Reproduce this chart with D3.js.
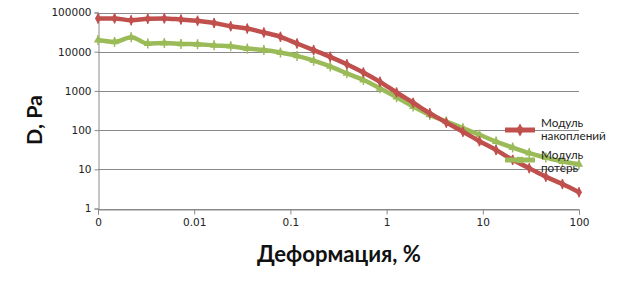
<!DOCTYPE html>
<html><head><meta charset="utf-8">
<script src="https://cdn.jsdelivr.net/npm/d3@7"></script>
<style>body{margin:0;background:#fff}svg{display:block}</style>
</head><body>
<svg id="c" width="623" height="291"></svg>
<script>
const strain = [0.001,0.001487,0.002212,0.00329,0.004894,0.007279,0.01083,0.0161,0.02395,0.03562,0.05298,0.0788,0.1172,0.1743,0.2593,0.3857,0.5737,0.8533,1.269,1.888,2.808,4.176,6.211,9.237,13.74,20.43,30.39,45.2,67.23,100];
const storageModulus = [70800,70800,63100,69200,70800,66100,61700,53700,44700,38900,30900,24000,16200,11000,7400,4800,2950,1700,910,500,270,155,91,52,31,17.4,10.7,6.5,4.2,2.6];
const lossModulus = [19800,17800,23400,16200,16600,15800,15500,14500,13800,12000,11000,9500,7800,5900,4200,2800,1900,1170,690,400,245,166,112,76,51,36,26,20,15.8,13.4];
const xTicks = [0.001,0.01,0.1,1,10,100];
const xTickLabels = ["0","0.01","0.1","1","10","100"];
const yTicks = [1,10,100,1000,10000,100000];
const seriesNames = [["Модуль","накоплений"],["Модуль","потерь"]];
const xTitle = "Деформация, %";
const yTitle = "D, Pa";

const svg = d3.select("#c");
const x = d3.scaleLog().domain([0.001,100]).range([98,579]);
const y = d3.scaleLog().domain([1,100000]).range([208.5,12.5]);
const grid = "#8a8a8a";
const tickFont = "'DejaVu Sans', sans-serif";

function fitWidth(sel, target){
  const w = sel.node().getComputedTextLength();
  const fs = parseFloat(sel.attr("font-size"));
  if (w > 0) sel.attr("font-size", (fs*target/w).toFixed(2)+"px");
}

// gridlines
svg.append("g").selectAll("line").data(yTicks).join("line")
  .attr("x1",98).attr("x2",579).attr("y1",d=>Math.round(y(d))+0.5).attr("y2",d=>Math.round(y(d))+0.5)
  .attr("stroke",grid).attr("stroke-width",1);

// axes
const ya = svg.append("g").attr("transform","translate(98.5,0)")
  .call(d3.axisLeft(y).tickValues(yTicks).tickFormat(d3.format("d")).tickSize(4).tickPadding(3));
const xa = svg.append("g").attr("transform",`translate(0,${Math.round(y(1))+0.5})`)
  .call(d3.axisBottom(x).tickValues(xTicks).tickFormat((d,i)=>xTickLabels[i]).tickSize(5).tickPadding(4));
[ya,xa].forEach(a=>{
  a.select(".domain").attr("stroke",grid);
  a.selectAll(".tick line").attr("stroke",grid);
  a.selectAll("text").attr("font-family",tickFont).attr("font-size","10.5px").attr("fill","#222");
});

// series
const series = [
  {vals: storageModulus, color:"#C0504D", marker:"diamond"},
  {vals: lossModulus, color:"#9BBB59", marker:"triangle"}
];
const line = d3.line().x(d=>x(d[0])).y(d=>y(d[1])).curve(d3.curveMonotoneX);
series.slice().reverse().forEach(s=>{
  const pts = strain.map((v,i)=>[v,s.vals[i]]);
  const g = svg.append("g");
  g.append("path").datum(pts).attr("d",line).attr("fill","none")
    .attr("stroke",s.color).attr("stroke-width",4.5).attr("stroke-linejoin","round");
  g.selectAll("line.tk").data(pts).join("line").attr("class","tk")
    .attr("x1",d=>x(d[0])).attr("x2",d=>x(d[0]))
    .attr("y1",d=>y(d[1])-5).attr("y2",d=>y(d[1])+5)
    .attr("stroke",s.color).attr("stroke-width",1.5);
  const sym = d3.symbol().type(s.marker==="diamond"?d3.symbolDiamond:d3.symbolTriangle).size(s.marker==="diamond"?32:30);
  g.selectAll("path.m").data(pts).join("path").attr("class","m")
    .attr("transform",d=>`translate(${x(d[0])},${y(d[1])})`)
    .attr("d",sym()).attr("fill",s.color);
});

// legend
const legY = [130,160];
const legBase = [[127,140],[158.5,171.5]];
const legWidths = [[43,65],[43,36]];
series.forEach((s,i)=>{
  const g = svg.append("g");
  g.append("line").attr("x1",505).attr("x2",535).attr("y1",legY[i]).attr("y2",legY[i])
    .attr("stroke",s.color).attr("stroke-width",5);
  const sym = d3.symbol().type(s.marker==="diamond"?d3.symbolDiamond:d3.symbolSquare).size(s.marker==="diamond"?50:40);
  g.append("path").attr("transform",`translate(520,${legY[i]})`).attr("d",sym()).attr("fill",s.color);
});
let legFs = null;
series.forEach((s,i)=>{
  seriesNames[i].forEach((t,j)=>{
    const tx = svg.append("text").attr("x",541).attr("y",legBase[i][j]).text(t)
      .attr("font-family","Lato, sans-serif").attr("font-size","12px").attr("fill","#222");
    if (legFs === null) { fitWidth(tx.text(seriesNames[0][1]), 65); legFs = tx.attr("font-size"); tx.text(t); }
    tx.attr("font-size", legFs);
  });
});

// titles
const xt = svg.append("text").attr("x",339).attr("y",262).attr("text-anchor","middle")
  .attr("font-family","Lato, sans-serif").attr("font-weight","bold").attr("font-size","22px").attr("fill","#111")
  .text(xTitle);
fitWidth(xt, 164);
const yt = svg.append("text").attr("transform","translate(42,120) rotate(-90)").attr("text-anchor","middle")
  .attr("font-family","Lato, sans-serif").attr("font-weight","bold").attr("font-size","21px").attr("fill","#111")
  .text(yTitle);
fitWidth(yt, 50);
</script>
</body></html>
